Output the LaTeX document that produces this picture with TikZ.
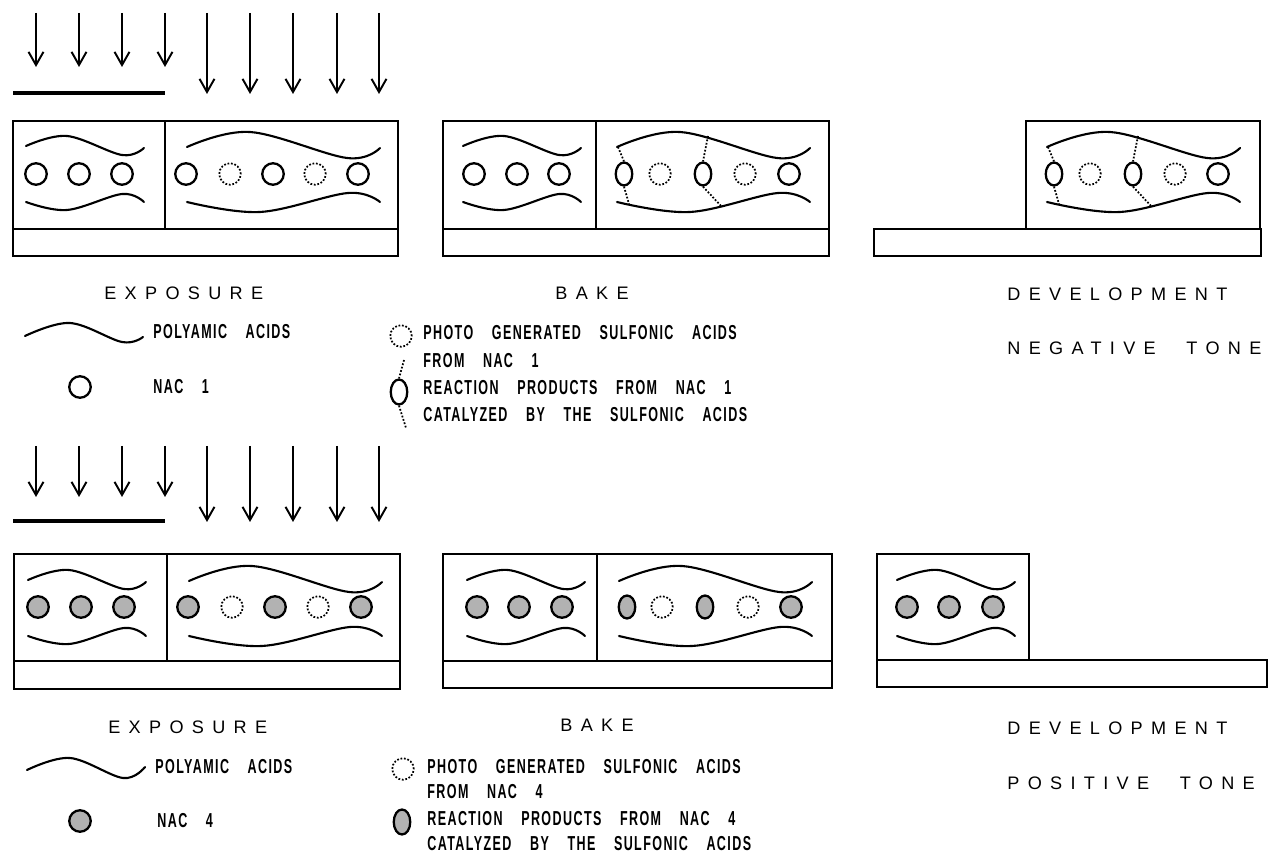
\documentclass[tikz,border=0pt]{standalone}
\usepackage{fontspec}
\setmainfont{Liberation Sans}
\newfontfamily\stagefont[LetterSpace=46,WordSpace=2.3]{Liberation Sans}
\newfontfamily\legendfont[FakeStretch=0.62,LetterSpace=7,WordSpace=3.8]{Liberation Sans}
\usepackage{xcolor}
\usepackage{tikz}
\usetikzlibrary{arrows.meta}
\usetikzlibrary{shapes.geometric}

\definecolor{nacgray}{RGB}{178,178,178}

\begin{document}
\begin{tikzpicture}[
  x=0.02cm, y=-0.02cm,
  film/.style={line width=1.5pt},
  divider/.style={line width=0.6pt},
  chain/.style={line width=1.2pt, line cap=round},
  ray/.style={line width=1.1pt, -{Straight Barb[length=7.5pt,width=8.5pt]}},
  mask/.style={line width=1.8pt},
  nac/.style={circle, draw, line width=1.3pt, minimum size=0.43cm, inner sep=0pt},
  nacfour/.style={nac, fill=nacgray},
  acid/.style={circle, draw, densely dotted, line width=1pt, minimum size=0.43cm, inner sep=0pt},
  product/.style={ellipse, draw, line width=1.3pt, minimum width=0.33cm, minimum height=0.46cm, inner sep=0pt},
  productfour/.style={product, fill=nacgray},
  link/.style={densely dotted, line width=1pt},
  stage/.style={anchor=west, inner sep=0pt, font=\stagefont\fontsize{10.3pt}{12pt}\selectfont},
  legend/.style={anchor=west, inner sep=0pt, font=\legendfont\bfseries\fontsize{11.5pt}{13pt}\selectfont}
]
\useasboundingbox (0,0) rectangle (1282,854);

% exposure light, top row
\draw[ray] (36,13) -- (36,67);
\draw[ray] (79,13) -- (79,67);
\draw[ray] (122,13) -- (122,67);
\draw[ray] (165,13) -- (165,67);
\draw[mask] (13,93) -- (165,93);
\draw[ray] (207,13) -- (207,94);
\draw[ray] (250,13) -- (250,94);
\draw[ray] (293,13) -- (293,94);
\draw[ray] (337,13) -- (337,94);
\draw[ray] (379,13) -- (379,94);

% exposure, NAC 1
\draw[film] (13,121) rectangle (398,229);
\draw[film] (13,229) rectangle (398,256);
\draw[divider] (165,121) -- (165,229);
\begin{scope}
  \draw[chain] plot[smooth, tension=0.6] coordinates {(26,146) (67,136) (122,155) (144,148)};
  \draw[chain] plot[smooth, tension=0.6] coordinates {(26,202) (67,210) (122,194) (144,202)};
  \draw[chain] plot[smooth, tension=0.6] coordinates {(187,147) (250,132) (347,158) (380,148)};
  \draw[chain] plot[smooth, tension=0.6] coordinates {(187,202) (260,212) (348,193) (380,202)};
\end{scope}
\node[nac] (expA-n1) at (36,174) {};
\node[nac] (expA-n2) at (79,174) {};
\node[nac] (expA-n3) at (122,174) {};
\node[nac] (expA-n4) at (186,174) {};
\node[acid] (expA-a1) at (230,174) {};
\node[nac] (expA-n5) at (273,174) {};
\node[acid] (expA-a2) at (315,174) {};
\node[nac] (expA-n6) at (358,174) {};

% bake, NAC 1
\draw[film] (443,121) rectangle (829,229);
\draw[film] (443,229) rectangle (829,256);
\draw[divider] (596,121) -- (596,229);
\begin{scope}[shift={(437,0)}]
  \draw[chain] plot[smooth, tension=0.6] coordinates {(26,146) (67,136) (122,155) (144,148)};
  \draw[chain] plot[smooth, tension=0.6] coordinates {(26,202) (67,210) (122,194) (144,202)};
\end{scope}
\begin{scope}[shift={(430,0)}]
  \draw[chain] plot[smooth, tension=0.6] coordinates {(187,147) (250,132) (347,158) (380,148)};
  \draw[chain] plot[smooth, tension=0.6] coordinates {(187,202) (260,212) (348,193) (380,202)};
\end{scope}
\node[nac] (bakeA-n1) at (474,174) {};
\node[nac] (bakeA-n2) at (517,174) {};
\node[nac] (bakeA-n3) at (559,174) {};
\node[product] (bakeA-p1) at (624,174) {};
\node[acid] (bakeA-a1) at (660,174) {};
\node[product] (bakeA-p2) at (703,174) {};
\node[acid] (bakeA-a2) at (745,174) {};
\node[nac] (bakeA-n4) at (789,174) {};
\draw[link] (618,147) -- (bakeA-p1.north);
\draw[link] (bakeA-p1.south) -- (629,204);
\draw[link] (708,136) -- (bakeA-p2.north);
\draw[link] (bakeA-p2.south) -- (722,207);

% development, negative tone
\draw[film] (1026,121) rectangle (1260,229);
\draw[film] (874,229) rectangle (1261,256);
\begin{scope}[shift={(860,0)}]
  \draw[chain] plot[smooth, tension=0.6] coordinates {(187,147) (250,132) (347,158) (380,148)};
  \draw[chain] plot[smooth, tension=0.6] coordinates {(187,202) (260,212) (348,193) (380,202)};
\end{scope}
\node[product] (devA-p1) at (1054,174) {};
\node[acid] (devA-a1) at (1090,174) {};
\node[product] (devA-p2) at (1133,174) {};
\node[acid] (devA-a2) at (1175,174) {};
\node[nac] (devA-n1) at (1218,174) {};
\draw[link] (1048,147) -- (devA-p1.north);
\draw[link] (devA-p1.south) -- (1059,204);
\draw[link] (1138,136) -- (devA-p2.north);
\draw[link] (devA-p2.south) -- (1152,207);

% labels and key, top row
\node[stage] (expA-label) at (104,293) {EXPOSURE};
\node[stage] (bakeA-label) at (555,293) {BAKE};
\node[stage] (devA-label) at (1007,294) {DEVELOPMENT};
\node[stage] (devA-tone) at (1007,348) {NEGATIVE TONE};

\draw[chain] plot[smooth, tension=0.6] coordinates {(25,336) (70,323) (122,342) (143,337)};
\node[legend] (keyA-chain) at (153,332) {POLYAMIC ACIDS};
\node[nac] (keyA-n) at (80,387) {};
\node[legend] (keyA-nac) at (153,387) {NAC 1};

\node[acid] (keyA-a) at (401,336) {};
\node[legend] (keyA-acid) at (423,333) {PHOTO GENERATED SULFONIC ACIDS};
\node[legend] (keyA-acid2) at (423,361) {FROM NAC 1};
\node[product, minimum height=0.5cm] (keyA-p) at (399,392) {};
\draw[link] (404,360) -- (keyA-p.north);
\draw[link] (keyA-p.south) -- (406,428);
\node[legend] (keyA-prod) at (423,388) {REACTION PRODUCTS FROM NAC 1};
\node[legend] (keyA-prod2) at (423,415) {CATALYZED BY THE SULFONIC ACIDS};

% exposure light, bottom row
\draw[ray] (36,446) -- (36,497);
\draw[ray] (79,446) -- (79,497);
\draw[ray] (122,446) -- (122,497);
\draw[ray] (165,446) -- (165,497);
\draw[mask] (13,521) -- (165,521);
\draw[ray] (207,446) -- (207,522);
\draw[ray] (250,446) -- (250,522);
\draw[ray] (293,446) -- (293,522);
\draw[ray] (337,446) -- (337,522);
\draw[ray] (379,446) -- (379,522);

% exposure, NAC 4
\draw[film] (14,554) rectangle (400,661);
\draw[film] (14,661) rectangle (400,689);
\draw[divider] (167,554) -- (167,661);
\begin{scope}[shift={(2,434)}]
  \draw[chain] plot[smooth, tension=0.6] coordinates {(26,146) (67,136) (122,155) (144,148)};
  \draw[chain] plot[smooth, tension=0.6] coordinates {(26,202) (67,210) (122,194) (144,202)};
  \draw[chain] plot[smooth, tension=0.6] coordinates {(187,147) (250,132) (347,158) (380,148)};
  \draw[chain] plot[smooth, tension=0.6] coordinates {(187,202) (260,212) (348,193) (380,202)};
\end{scope}
\node[nacfour] (expB-n1) at (38,607) {};
\node[nacfour] (expB-n2) at (81,607) {};
\node[nacfour] (expB-n3) at (124,607) {};
\node[nacfour] (expB-n4) at (188,607) {};
\node[acid] (expB-a1) at (232,607) {};
\node[nacfour] (expB-n5) at (275,607) {};
\node[acid] (expB-a2) at (318,607) {};
\node[nacfour] (expB-n6) at (361,607) {};

% bake, NAC 4
\draw[film] (443,554) rectangle (832,661);
\draw[film] (443,661) rectangle (832,688);
\draw[divider] (597,554) -- (597,661);
\begin{scope}[shift={(441,434)}]
  \draw[chain] plot[smooth, tension=0.6] coordinates {(26,146) (67,136) (122,155) (144,148)};
  \draw[chain] plot[smooth, tension=0.6] coordinates {(26,202) (67,210) (122,194) (144,202)};
\end{scope}
\begin{scope}[shift={(432,434)}]
  \draw[chain] plot[smooth, tension=0.6] coordinates {(187,147) (250,132) (347,158) (380,148)};
  \draw[chain] plot[smooth, tension=0.6] coordinates {(187,202) (260,212) (348,193) (380,202)};
\end{scope}
\node[nacfour] (bakeB-n1) at (477,607) {};
\node[nacfour] (bakeB-n2) at (519,607) {};
\node[nacfour] (bakeB-n3) at (562,607) {};
\node[productfour] (bakeB-p1) at (627,607) {};
\node[acid] (bakeB-a1) at (662,607) {};
\node[productfour] (bakeB-p2) at (705,607) {};
\node[acid] (bakeB-a2) at (748,607) {};
\node[nacfour] (bakeB-n4) at (791,607) {};

% development, positive tone
\draw[film] (877,554) rectangle (1029,660);
\draw[film] (877,660) rectangle (1267,687);
\begin{scope}[shift={(871,434)}]
  \draw[chain] plot[smooth, tension=0.6] coordinates {(26,146) (67,136) (122,155) (144,148)};
  \draw[chain] plot[smooth, tension=0.6] coordinates {(26,202) (67,210) (122,194) (144,202)};
\end{scope}
\node[nacfour] (devB-n1) at (907,607) {};
\node[nacfour] (devB-n2) at (949,607) {};
\node[nacfour] (devB-n3) at (993,607) {};

% labels and key, bottom row
\node[stage] (expB-label) at (108,727) {EXPOSURE};
\node[stage] (bakeB-label) at (560,725) {BAKE};
\node[stage] (devB-label) at (1007,728) {DEVELOPMENT};
\node[stage] (devB-tone) at (1007,783) {POSITIVE TONE};

\draw[chain] plot[smooth, tension=0.6] coordinates {(27,770) (70,758) (123,778) (145,767)};
\node[legend] (keyB-chain) at (155,767) {POLYAMIC ACIDS};
\node[nacfour] (keyB-n) at (80,821) {};
\node[legend] (keyB-nac) at (157,821) {NAC 4};

\node[acid] (keyB-a) at (403,769) {};
\node[legend] (keyB-acid) at (427,767) {PHOTO GENERATED SULFONIC ACIDS};
\node[legend] (keyB-acid2) at (427,792) {FROM NAC 4};
\node[productfour, minimum height=0.5cm] (keyB-p) at (402,822) {};
\node[legend] (keyB-prod) at (427,819) {REACTION PRODUCTS FROM NAC 4};
\node[legend] (keyB-prod2) at (427,844) {CATALYZED BY THE SULFONIC ACIDS};

\end{tikzpicture}
\end{document}
